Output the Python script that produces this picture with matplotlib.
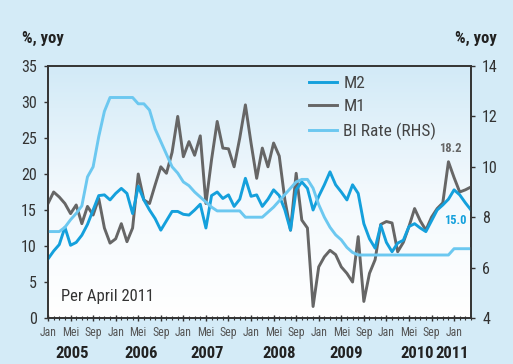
import matplotlib
matplotlib.use('Agg')
import matplotlib.pyplot as plt
import numpy as np

plt.rcParams['font.family'] = ['Roboto Condensed', 'Liberation Sans Narrow', 'Liberation Sans', 'DejaVu Sans']

# monthly data, Jan 2005 .. Apr 2011
m2 = [8.2, 9.3, 10.2, 12.6, 10.1, 10.5, 11.5, 13.0, 15.0, 17.0,
      17.1, 16.4, 17.3, 18.0, 17.3, 14.5, 18.3, 16.4, 15.0, 13.8,
      12.2, 13.5, 14.8, 14.8, 14.4, 14.3, 15.0, 15.8, 12.5, 17.0,
      17.5, 16.6, 17.1, 15.5, 16.5, 19.4, 16.9, 17.1, 15.5, 16.5,
      17.8, 17.0, 15.0, 12.2, 17.8, 18.9, 18.0, 15.0, 16.9, 18.5,
      20.3, 18.5, 17.5, 16.4, 18.5, 17.3, 13.1, 11.0, 9.7, 12.9,
      10.5, 9.2, 10.4, 10.8, 12.7, 13.1, 12.5, 12.0, 13.5, 15.0,
      15.7, 16.5, 17.8, 17.1, 16.0, 15.0]
m1 = [15.9, 17.5, 16.8, 15.9, 14.5, 15.7, 13.1, 15.5, 14.3, 16.6,
      12.5, 10.4, 11.0, 13.1, 10.6, 12.5, 20.0, 16.4, 15.9, 18.5,
      21.0, 20.1, 23.0, 28.0, 22.4, 24.5, 22.6, 25.3, 15.9, 22.0,
      27.3, 23.6, 23.5, 21.0, 25.0, 29.6, 24.3, 19.4, 23.6, 21.0,
      24.3, 22.5, 16.4, 12.2, 20.1, 13.6, 12.5, 1.6, 7.1, 8.5,
      9.4, 8.8, 7.1, 6.2, 5.0, 11.3, 2.3, 6.2, 8.1, 13.0,
      13.4, 13.2, 9.2, 10.5, 12.7, 15.2, 13.5, 12.2, 14.0, 15.2,
      16.0, 21.7, 19.5, 17.5, 17.8, 18.2]
bi_rate = [7.43, 7.43, 7.43, 7.6, 7.9, 8.15, 8.45, 9.6, 10.0, 11.2,
           12.2, 12.75, 12.75, 12.75, 12.75, 12.75, 12.5, 12.5, 12.25, 11.5,
           11.0, 10.5, 10.0, 9.75, 9.4, 9.25, 9.0, 8.8, 8.6, 8.4,
           8.25, 8.25, 8.25, 8.25, 8.25, 8.0, 8.0, 8.0, 8.0, 8.2,
           8.4, 8.65, 8.9, 9.15, 9.4, 9.5, 9.5, 9.15, 8.5, 8.0,
           7.6, 7.3, 7.1, 6.8, 6.6, 6.5, 6.5, 6.5, 6.5, 6.5,
           6.5, 6.5, 6.5, 6.5, 6.5, 6.5, 6.5, 6.5, 6.5, 6.5,
           6.5, 6.5, 6.75, 6.75, 6.75, 6.75]
months = np.arange(len(m2))
month_labels = ['Jan', 'Mei', 'Sep']
years = ['2005', '2006', '2007', '2008', '2009', '2010', '2011']
year_pos = [4.3, 16.5, 28.2, 41.0, 52.9, 65.4, 71.6]

c_m2 = '#14a0dc'
c_m1 = '#666666'
c_bi = '#6cc8f0'
dark = '#333333'

fig = plt.figure(figsize=(5.13, 3.64), dpi=100, facecolor='#d4ebf7')
ax = fig.add_axes([48/513, 46/364, 423/513, 252/364])
ax.set_facecolor('none')

# gradient background inside plot area
grad = np.linspace(0, 1, 256).reshape(-1, 1)
cmap = matplotlib.colors.LinearSegmentedColormap.from_list('bg', ['#ffffff', '#f3f9fd', '#d2eaf7'])
ax.imshow(grad, aspect='auto', cmap=cmap, origin='lower', extent=[0, 1, 0, 1],
          transform=ax.transAxes, zorder=0)

l1, = ax.plot(months, m1, color=c_m1, lw=2.1, zorder=3, solid_joinstyle='round')
l2, = ax.plot(months, m2, color=c_m2, lw=2.1, zorder=4, solid_joinstyle='round')
ax.set_xlim(0, 75)
ax.set_ylim(0, 35)
ax.set_yticks(np.arange(0, 36, 5))

ax2 = ax.twinx()
l3, = ax2.plot(months, bi_rate, color=c_bi, lw=2.1, zorder=2, solid_joinstyle='round')
ax2.set_ylim(4, 14)
ax2.set_yticks(np.arange(4, 15, 2))

for a in (ax, ax2):
    for s in a.spines.values():
        s.set_color(dark)
        s.set_linewidth(1.2)
ax.tick_params(axis='y', labelsize=11.5, colors=dark, length=3, width=1, pad=5)
ax2.tick_params(axis='y', labelsize=11.5, colors=dark, length=3, width=1, pad=5)

ax.set_xticks(np.arange(0, 73, 4))
ax.set_xticklabels([month_labels[i % 3] for i in range(19)])
ax.set_xticks(months, minor=True)
ax.tick_params(axis='x', which='major', labelsize=8.5, colors='#555555', length=5,
               width=1, direction='inout', pad=3)
ax.tick_params(axis='x', which='minor', length=3, width=0.8, direction='inout', color=dark)
ax.tick_params(axis='x', which='major', color=dark)

for yl, xp in zip(years, year_pos):
    ax.text(xp, -0.14, yl, transform=ax.get_xaxis_transform(), ha='center', va='center',
            fontsize=12, fontweight='bold', color='#222222')

fig.text(22/513, 1 - 38/364, '%, yoy', ha='left', va='center', fontsize=12,
         fontweight='bold', color='#222222')
fig.text(497/513, 1 - 38/364, '%, yoy', ha='right', va='center', fontsize=12,
         fontweight='bold', color='#222222')

ax.text(0.03, 0.085, 'Per April 2011', transform=ax.transAxes, fontsize=12, color=dark,
        ha='left', va='center')

ax.annotate('18.2', xy=(75, m1[-1]), xytext=(71.3, 23.6), fontsize=9, color='#666666',
            ha='center', va='center', fontweight='bold')
ax.annotate('15.0', xy=(75, m2[-1]), xytext=(72.3, 13.6), fontsize=9, color=c_m2,
            ha='center', va='center', fontweight='bold')

leg = ax2.legend([l2, l1, l3], ['M2', 'M1', 'BI Rate (RHS)'], loc='upper left',
                 bbox_to_anchor=(0.6, 0.99), frameon=False, fontsize=12.5, handlelength=1.6,
                 handletextpad=0.4, labelspacing=0.5, borderaxespad=0)
for t in leg.get_texts():
    t.set_color('#444444')

fig.savefig('out.png', dpi=100, facecolor=fig.get_facecolor())
